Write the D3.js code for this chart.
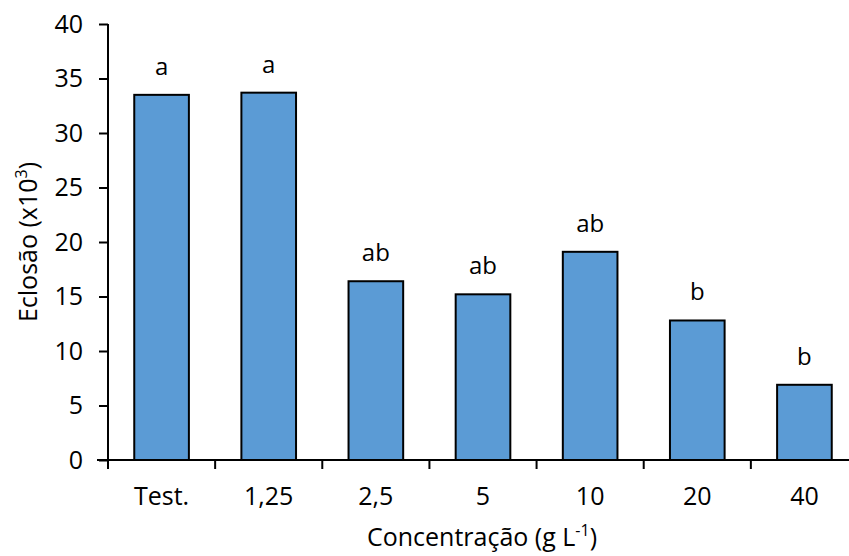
<!DOCTYPE html>
<html><head><meta charset="utf-8">
<script src="https://cdn.jsdelivr.net/npm/d3@7"></script>
<style>body{margin:0;background:#fff}svg{display:block}text{font-family:"Open Sans",sans-serif;fill:#000}</style>
</head><body>
<svg id="c" width="849" height="556"></svg>
<script>
const categories = ["Test.", "1,25", "2,5", "5", "10", "20", "40"];
const values = [33.5, 33.7, 16.4, 15.2, 19.1, 12.8, 6.9];
const letters = ["a", "a", "ab", "ab", "ab", "b", "b"];
const yTicks = [0, 5, 10, 15, 20, 25, 30, 35, 40];

const svg = d3.select("#c");
const x = d3.scaleBand().domain(categories).range([108, 858]).paddingInner(0.49).paddingOuter(0.245);
const y = d3.scaleLinear().domain([0, 40]).range([460, 24]);

svg.selectAll("rect.bar").data(values).join("rect").attr("class","bar")
  .attr("x", (d,i)=>x(categories[i])).attr("width", x.bandwidth())
  .attr("y", d=>y(d)).attr("height", d=>y(0)-y(d))
  .attr("fill", "#5B9BD5").attr("stroke", "#000").attr("stroke-width", 2);

svg.selectAll("text.lab").data(values).join("text").attr("class","lab")
  .attr("x", (d,i)=>x(categories[i]) + x.bandwidth()/2).attr("y", d=>y(d)-20)
  .attr("text-anchor","middle").attr("font-size", 24).text((d,i)=>letters[i]);

const yAxis = svg.append("g").attr("transform","translate(108,0)")
  .call(d3.axisLeft(y).tickValues(yTicks).tickSize(9).tickPadding(16));
yAxis.selectAll("text").attr("font-size", 25).attr("font-family", "Open Sans");
yAxis.select(".domain").attr("stroke-width", 2).attr("d", "M0,24V460");
yAxis.selectAll(".tick line").attr("stroke-width", 2);

const step = x.step();
const xAxis = svg.append("g").attr("transform","translate(0,460)");
xAxis.append("line").attr("x1", 97).attr("x2", 858).attr("stroke","#000").attr("stroke-width",2);
xAxis.selectAll("line.t").data(categories).join("line").attr("class","t")
  .attr("x1", d=>x(d) - (step - x.bandwidth())/2).attr("x2", d=>x(d) - (step - x.bandwidth())/2)
  .attr("y1", 0).attr("y2", 9).attr("stroke","#000").attr("stroke-width",2);
xAxis.selectAll("text").data(categories).join("text")
  .attr("x", d=>x(d)+x.bandwidth()/2).attr("y", 45).attr("text-anchor","middle").attr("font-size", 25).text(d=>d);

const xt = svg.append("text").attr("x", 482).attr("y", 546).attr("text-anchor","middle").attr("font-size", 25);
xt.append("tspan").text("Concentração (g L");
xt.append("tspan").attr("dy", -10).attr("font-size", 16).text("-1");
xt.append("tspan").attr("dy", 10).text(")");

const yt = svg.append("text").attr("transform","translate(37,242) rotate(-90)").attr("text-anchor","middle").attr("font-size", 25);
yt.append("tspan").text("Eclosão (x10");
yt.append("tspan").attr("dy", -10).attr("font-size", 16).text("3");
yt.append("tspan").attr("dy", 10).text(")");
</script>
</body></html>
